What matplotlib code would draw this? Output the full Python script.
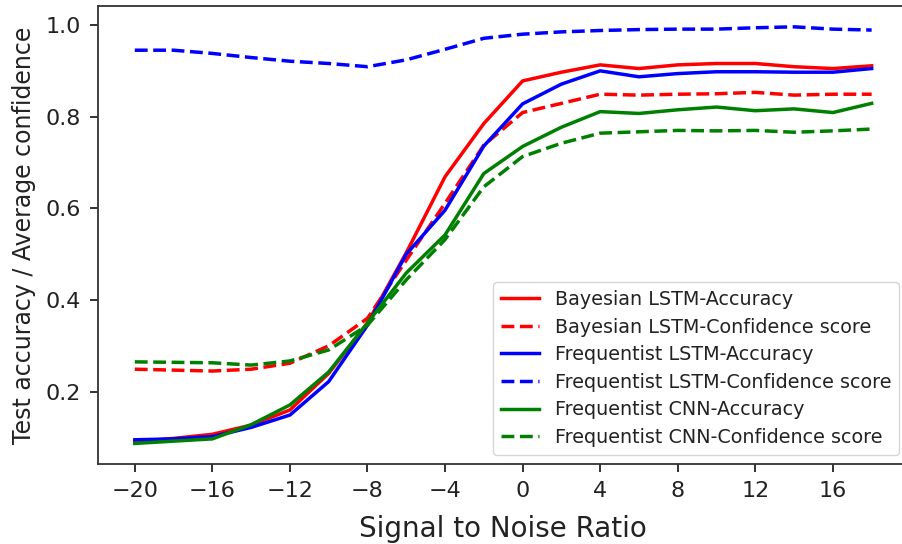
import numpy as np
import matplotlib
matplotlib.use('Agg')
import matplotlib.pyplot as plt

# SNR sweep (dB)
snr = [-20, -18, -16, -14, -12, -10, -8, -6, -4, -2, 0, 2, 4, 6, 8, 10, 12, 14, 16, 18]

# Bayesian LSTM
bayes_acc = [0.091, 0.098, 0.107, 0.127, 0.160, 0.240, 0.350, 0.503, 0.669, 0.785,
             0.878, 0.897, 0.913, 0.905, 0.913, 0.916, 0.916, 0.909, 0.905, 0.911]
bayes_conf = [0.249, 0.247, 0.245, 0.249, 0.262, 0.300, 0.360, 0.487, 0.611, 0.738,
              0.809, 0.829, 0.849, 0.847, 0.849, 0.850, 0.853, 0.847, 0.849, 0.849]

# Frequentist LSTM
lstm_acc = [0.095, 0.097, 0.102, 0.122, 0.149, 0.222, 0.345, 0.500, 0.596, 0.736,
            0.828, 0.871, 0.900, 0.887, 0.894, 0.898, 0.898, 0.897, 0.897, 0.905]
lstm_conf = [0.945, 0.945, 0.938, 0.929, 0.921, 0.916, 0.909, 0.924, 0.947, 0.971,
             0.980, 0.985, 0.988, 0.990, 0.991, 0.991, 0.994, 0.996, 0.991, 0.989]

# Frequentist CNN
cnn_acc = [0.087, 0.092, 0.097, 0.128, 0.171, 0.243, 0.350, 0.459, 0.542, 0.676,
           0.735, 0.777, 0.811, 0.807, 0.815, 0.821, 0.813, 0.817, 0.809, 0.829]
cnn_conf = [0.265, 0.264, 0.263, 0.258, 0.267, 0.291, 0.345, 0.444, 0.532, 0.647,
            0.713, 0.742, 0.764, 0.767, 0.770, 0.769, 0.770, 0.766, 0.769, 0.773]

xticks = [-20, -16, -12, -8, -4, 0, 4, 8, 12, 16]

fig = plt.figure(figsize=(9.02, 5.44), dpi=100)
ax = fig.add_axes([0.1086, 0.1465, 0.8986, 0.8425])

lw = 2.5
ax.plot(snr, bayes_acc, color='red', lw=lw, label='Bayesian LSTM-Accuracy')
ax.plot(snr, bayes_conf, color='red', lw=lw, ls='--', label='Bayesian LSTM-Confidence score')
ax.plot(snr, lstm_acc, color='blue', lw=lw, label='Frequentist LSTM-Accuracy')
ax.plot(snr, lstm_conf, color='blue', lw=lw, ls='--', label='Frequentist LSTM-Confidence score')
ax.plot(snr, cnn_acc, color='green', lw=lw, label='Frequentist CNN-Accuracy')
ax.plot(snr, cnn_conf, color='green', lw=lw, ls='--', label='Frequentist CNN-Confidence score')

ax.set_xlim(-21.9, 19.9)
ax.set_ylim(0.0415, 1.0415)
ax.set_xticks(xticks)
ax.set_yticks([0.2, 0.4, 0.6, 0.8, 1.0])
ax.tick_params(labelsize=16, length=5.5, width=1.3, pad=6.8, colors='#222222')
for s in ax.spines.values():
    s.set_linewidth(1.3)
    s.set_color('#333333')

ax.set_xlabel('Signal to Noise Ratio', fontsize=20, labelpad=10, color='#222222')
ax.set_ylabel('Test accuracy / Average confidence', fontsize=17, labelpad=7, color='#222222')

leg = ax.legend(loc='lower right', fontsize=13.8, labelspacing=0.45, handlelength=2.0)
for t in leg.get_texts():
    t.set_color('#222222')

fig.savefig('out.png', dpi=100)
